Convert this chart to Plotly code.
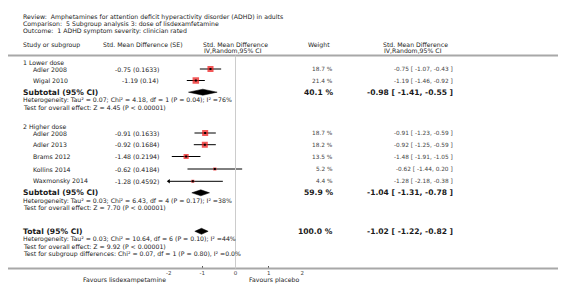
import plotly.graph_objects as go

# ---------------- data ----------------
title_lines = [
    "Review:\u00a0\u00a0Amphetamines for attention deficit hyperactivity disorder (ADHD) in adults",
    "Comparison:\u00a0\u00a05 Subgroup analysis 3: dose of lisdexamfetamine",
    "Outcome:\u00a0\u00a01 ADHD symptom severity: clinician rated",
]
group_names = ["1 Lower dose", "2 Higher dose"]
study_names = ["Adler 2008", "Wigal 2010", "Adler 2008", "Adler 2013", "Brams 2012",
               "Kollins 2014", "Waxmonsky 2014"]
study_group = [0, 0, 1, 1, 1, 1, 1]
smd = [-0.75, -1.19, -0.91, -0.92, -1.48, -0.62, -1.28]
se = [0.1633, 0.14, 0.1633, 0.1684, 0.2194, 0.4184, 0.4592]
ci_lo = [-1.07, -1.46, -1.23, -1.25, -1.91, -1.44, -2.18]
ci_hi = [-0.43, -0.92, -0.59, -0.59, -1.05, 0.20, -0.38]
weight = [18.7, 21.4, 18.7, 18.2, 13.5, 5.2, 4.4]

sub_est = [-0.98, -1.04]
sub_lo = [-1.41, -1.31]
sub_hi = [-0.55, -0.78]
sub_w = [40.1, 59.9]
sub_het = ["Heterogeneity: Tau\u00b2 = 0.07; Chi\u00b2 = 4.18, df = 1 (P = 0.04); I\u00b2 =76%",
           "Heterogeneity: Tau\u00b2 = 0.03; Chi\u00b2 = 6.43, df = 4 (P = 0.17); I\u00b2 =38%"]
sub_test = ["Test for overall effect: Z = 4.45 (P < 0.00001)",
            "Test for overall effect: Z = 7.70 (P < 0.00001)"]

tot_est, tot_lo, tot_hi, tot_w = -1.02, -1.22, -0.82, 100.0
tot_lines = ["Heterogeneity: Tau\u00b2 = 0.03; Chi\u00b2 = 10.64, df = 6 (P = 0.10); I\u00b2 =44%",
             "Test for overall effect: Z = 9.92 (P < 0.00001)",
             "Test for subgroup differences: Chi\u00b2 = 0.07, df = 1 (P = 0.80), I\u00b2 =0.0%"]
tick_vals = [-2, -1, 0, 1, 2]
favours = ["Favours lisdexampetamine", "Favours placebo"]

# ---------------- layout constants (pixels) ----------------
W, H = 566, 284
X0, UNIT = 227.5, 33.35          # pixel of 0 and px per unit
XMIN, XMAX = -2, 2
title_y = [9, 16, 23]
head_y = [36.5, 42.5]
rule_y = 47.5
group_y = [54, 118.5]
study_y = [61, 72.5, 125, 136.7, 148.5, 161, 173.3]
sub_y = [84.2, 184.8]
sub_line_y = [[92.0, 99.2], [192.6, 199.8]]
tot_y = 223.3
tot_line_y = [231.0, 238.3, 245.6]
axis_y = 260.5
fav_y = 272

FONT = "DejaVu Sans"
REG = 6.2
BOLD = 7.6
DARK = "#1a1a1a"
GREY = "#444444"

def px(x):
    return x / W

fig = go.Figure()
ann = []

def text(x, y, s, size=REG, color=DARK, anchor="left", bold=False):
    ann.append(dict(x=px(x), y=y, xref="paper", yref="y", text=("<b>%s</b>" % s) if bold else s,
                    showarrow=False, xanchor=anchor, yanchor="middle",
                    font=dict(family=FONT, size=size, color=color)))

for t, y in zip(title_lines, title_y):
    text(13, y, t)
text(13, head_y[0], "Study or subgroup")
text(93, head_y[0], "Std. Mean Difference (SE)")
text(193, head_y[0], "Std. Mean Difference")
text(194, head_y[1], "IV,Random,95% CI")
text(298, head_y[0], "Weight")
text(373, head_y[0], "Std. Mean Difference")
text(374, head_y[1], "IV,Random,95% CI")

for g, gy in enumerate(group_names):
    text(13, group_y[g], gy)

for i, name in enumerate(study_names):
    y = study_y[i]
    text(23, y, name)
    text(153, y, "%.2f (%s)" % (smd[i], "%g" % se[i]), anchor="right")
    text(327, y, "%.1f %%" % weight[i], color=GREY, size=5.8, anchor="right")
    text(447, y, "%.2f [ %.2f, %.2f ]" % (smd[i], ci_lo[i], ci_hi[i]), color=GREY, size=5.8,
         anchor="right")

for g in range(2):
    text(13, sub_y[g], "Subtotal (95% CI)", size=BOLD, bold=True)
    text(327, sub_y[g], "%.1f %%" % sub_w[g], size=BOLD, bold=True, anchor="right")
    text(447, sub_y[g], "%.2f [ %.2f, %.2f ]" % (sub_est[g], sub_lo[g], sub_hi[g]),
         size=BOLD, bold=True, anchor="right")
    text(13, sub_line_y[g][0], sub_het[g])
    text(13, sub_line_y[g][1], sub_test[g])

text(13, tot_y, "Total (95% CI)", size=BOLD, bold=True)
text(327, tot_y, "%.1f %%" % tot_w, size=BOLD, bold=True, anchor="right")
text(447, tot_y, "%.2f [ %.2f, %.2f ]" % (tot_est, tot_lo, tot_hi), size=BOLD, bold=True,
     anchor="right")
for s, y in zip(tot_lines, tot_line_y):
    text(13, y, s)

text(160, fav_y, favours[0], anchor="right")
text(239, fav_y, favours[1], anchor="left")

# shapes: rules and zero line
shapes = [
    dict(type="line", xref="paper", yref="y", x0=0, x1=1, y0=rule_y, y1=rule_y,
         line=dict(color="#a8a8a8", width=2)),
    dict(type="line", xref="paper", yref="y", x0=0, x1=1, y0=axis_y, y1=axis_y,
         line=dict(color="#a8a8a8", width=2)),
    dict(type="line", xref="x", yref="y", x0=0, x1=0, y0=rule_y, y1=axis_y,
         line=dict(color="#cccccc", width=1)),
]

# CI lines (clipped to axis range)
for i in range(len(study_names)):
    lo = max(ci_lo[i], XMIN)
    hi = min(ci_hi[i], XMAX)
    fig.add_trace(go.Scatter(x=[lo, hi], y=[study_y[i], study_y[i]], mode="lines",
                             line=dict(color="black", width=1), hoverinfo="skip",
                             showlegend=False))
    if ci_lo[i] < XMIN:
        fig.add_trace(go.Scatter(x=[XMIN], y=[study_y[i]], mode="markers",
                                 marker=dict(symbol="triangle-left", size=4, color="black"),
                                 cliponaxis=False, hoverinfo="skip", showlegend=False))

# squares
sizes = [1.4 * (w ** 0.5) for w in weight]
fig.add_trace(go.Scatter(x=smd, y=study_y, mode="markers",
                         marker=dict(symbol="square", size=sizes, color="#ee1111",
                                     line=dict(width=0)),
                         hoverinfo="skip", showlegend=False))
fig.add_trace(go.Scatter(x=smd, y=study_y, mode="markers",
                         marker=dict(symbol="square", size=2, color="black", line=dict(width=0)),
                         hoverinfo="skip", showlegend=False))

# diamonds
HALF = 3
def diamond(est, lo, hi, y):
    fig.add_trace(go.Scatter(x=[lo, est, hi, est, lo], y=[y, y - HALF, y, y + HALF, y],
                             mode="lines", fill="toself", fillcolor="black",
                             line=dict(color="black", width=0.5), hoverinfo="skip",
                             showlegend=False))

for g in range(2):
    diamond(sub_est[g], sub_lo[g], sub_hi[g], sub_y[g])
diamond(tot_est, tot_lo, tot_hi, tot_y)

fig.update_layout(
    width=W, height=H,
    margin=dict(l=0, r=0, t=0, b=0),
    paper_bgcolor="white", plot_bgcolor="white",
    showlegend=False,
    annotations=ann, shapes=shapes,
    xaxis=dict(domain=[px(X0 + XMIN * UNIT), px(X0 + XMAX * UNIT)], range=[XMIN, XMAX],
               anchor="free", position=(H - axis_y) / H, showgrid=False, zeroline=False,
               showline=False, tickvals=tick_vals, ticktext=[str(v) for v in tick_vals],
               ticks="inside", ticklen=3, tickcolor="#555555", tickwidth=1,
               tickfont=dict(family=FONT, size=5.5, color=GREY), automargin=False,
               fixedrange=True),
    yaxis=dict(domain=[0, 1], range=[H, 0], visible=False, automargin=False, fixedrange=True),
)

fig.write_html("out.html", config={"displayModeBar": False})
